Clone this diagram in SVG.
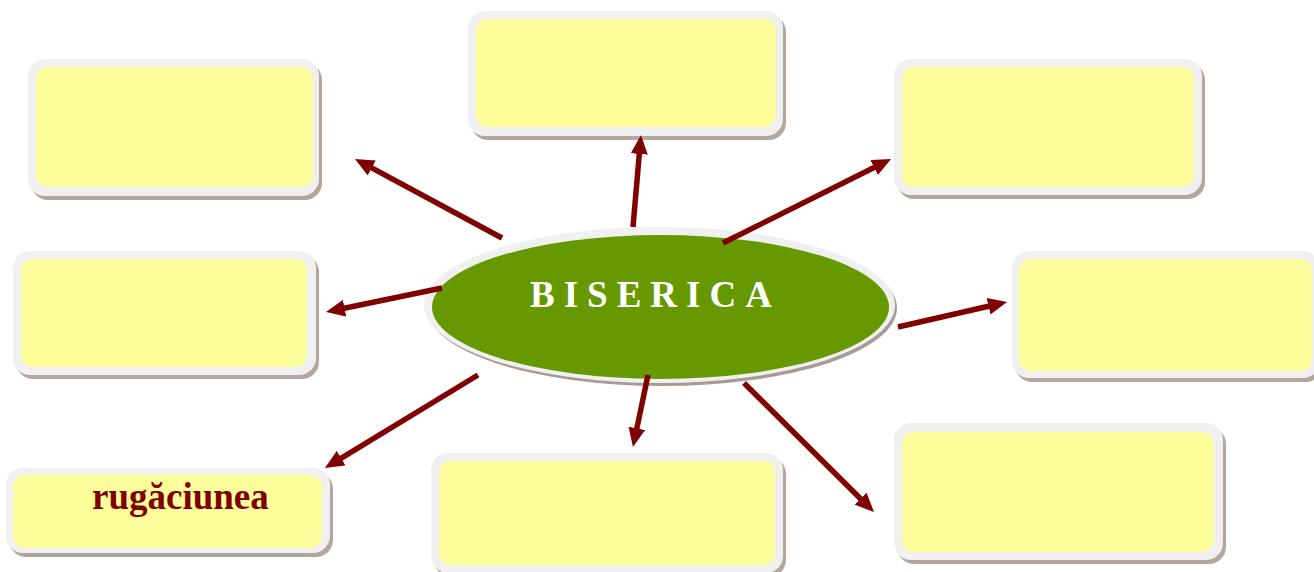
<svg xmlns="http://www.w3.org/2000/svg" width="1314" height="572" viewBox="0 0 1314 572">
<style>
.sh{fill:#b3a69e}
.out{fill:#f0f0f0}
.in{fill:#fdfd9b}
.conn{stroke:#800000;stroke-width:5.5;fill:none;marker-end:url(#ah)}
.lbl{font-family:"Liberation Serif","Times New Roman",serif;font-weight:bold}
</style>
<defs>
<marker id="ah" viewBox="0 0 19 17" markerWidth="19" markerHeight="17" refX="9" refY="8.5" orient="auto" markerUnits="userSpaceOnUse">
<path d="M0,0 L19,8.5 L0,17 z" fill="#800000"/>
</marker>
</defs>
<rect width="1314" height="572" fill="#ffffff"/>

<g id="box-top-left">
<rect class="sh" x="31" y="63" width="291" height="137" rx="17"/>
<rect class="out" x="28" y="59" width="291" height="137" rx="17"/>
<rect class="in" x="36" y="67" width="277" height="120" rx="12"/>
</g>
<g id="box-top-center">
<rect class="sh" x="471" y="15" width="315" height="125" rx="17"/>
<rect class="out" x="468" y="11" width="315" height="125" rx="17"/>
<rect class="in" x="476" y="19" width="300" height="108" rx="12"/>
</g>
<g id="box-top-right">
<rect class="sh" x="897" y="63" width="308" height="136" rx="17"/>
<rect class="out" x="894" y="59" width="308" height="136" rx="17"/>
<rect class="in" x="902" y="67" width="292" height="120" rx="12"/>
</g>
<g id="box-mid-left">
<rect class="sh" x="16" y="255" width="303" height="124" rx="17"/>
<rect class="out" x="13" y="251" width="303" height="124" rx="17"/>
<rect class="in" x="21" y="259" width="286" height="108" rx="12"/>
</g>
<g id="box-mid-right">
<rect class="sh" x="1015" y="255" width="308" height="127" rx="17"/>
<rect class="out" x="1012" y="251" width="308" height="127" rx="17"/>
<rect class="in" x="1019" y="259" width="293" height="112" rx="12"/>
</g>
<g id="box-rugaciunea">
<rect class="sh" x="9" y="472" width="324" height="85" rx="17"/>
<rect class="out" x="6" y="468" width="324" height="85" rx="17"/>
<rect class="in" x="13" y="475" width="309" height="73" rx="12"/>
<text class="lbl" x="92" y="509" font-size="37" fill="#800000">rugăciunea</text>
</g>
<g id="box-bottom-center">
<rect class="sh" x="434" y="457" width="352" height="120" rx="17"/>
<rect class="out" x="431" y="453" width="352" height="120" rx="17"/>
<rect class="in" x="439" y="461" width="336" height="104" rx="12"/>
</g>
<g id="box-bottom-right">
<rect class="sh" x="897" y="427" width="329" height="137" rx="17"/>
<rect class="out" x="894" y="423" width="329" height="137" rx="17"/>
<rect class="in" x="902" y="432" width="312" height="120" rx="12"/>
</g>

<g id="center-biserica">
<ellipse cx="662" cy="308" rx="235" ry="78" fill="#a89a94"/>
<ellipse cx="659.5" cy="305" rx="235.5" ry="78" fill="#f0f0f0"/>
<ellipse cx="660.5" cy="307" rx="228.5" ry="72" fill="#669900"/>
<text class="lbl" x="530" y="307" font-size="37" fill="#ffffff" letter-spacing="9">BISERICA</text>
</g>

<g id="connectors">
<line class="conn" x1="502" y1="238" x2="363.8" y2="163.7"/>
<line class="conn" x1="633" y1="227" x2="640.1" y2="145"/>
<line class="conn" x1="723" y1="243" x2="882.1" y2="163.5"/>
<line class="conn" x1="442" y1="288" x2="335.8" y2="310"/>
<line class="conn" x1="898" y1="327" x2="997.3" y2="304.2"/>
<line class="conn" x1="478" y1="375" x2="333.5" y2="462.8"/>
<line class="conn" x1="648" y1="375" x2="635" y2="437.2"/>
<line class="conn" x1="744" y1="383" x2="866.9" y2="505"/>
</g>
</svg>
